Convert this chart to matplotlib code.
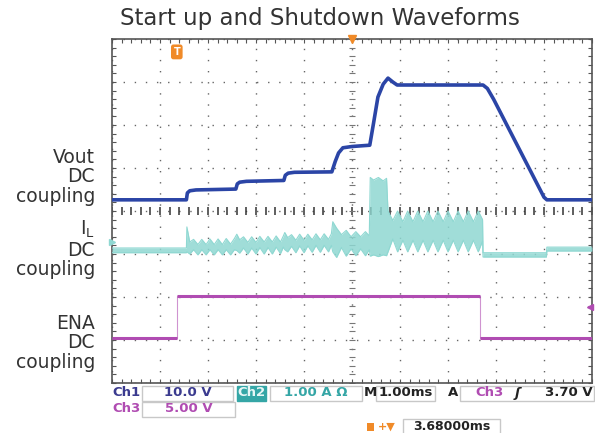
import matplotlib.pyplot as plt
import numpy as np

# time in ms (1 ms/div), amplitude in divisions (0 = bottom, 8 = top)
vout_t = [0.00, 1.55, 1.57, 1.62, 1.75, 2.58, 2.61, 2.66, 2.80, 3.58, 3.61, 3.67, 3.80,
          4.58, 4.65, 4.72, 4.81, 5.00, 5.37, 5.45, 5.54, 5.65, 5.75, 5.85, 5.94,
          7.73, 7.82, 7.95, 9.00, 9.06, 10.00]
vout_v = [4.26, 4.26, 4.42, 4.47, 4.49, 4.51, 4.63, 4.67, 4.69, 4.71, 4.83, 4.88, 4.90,
          4.91, 5.15, 5.35, 5.47, 5.50, 5.53, 6.05, 6.65, 6.95, 7.09, 7.00, 6.93,
          6.93, 6.85, 6.60, 4.32, 4.26, 4.26]

il_t = [0.00, 1.55,
        1.56, 1.62, 1.70, 1.79, 1.87, 1.96, 2.04, 2.13, 2.21, 2.30, 2.38, 2.47, 2.55,
        2.60, 2.66, 2.74, 2.83, 2.91, 3.00, 3.08, 3.17, 3.25, 3.34, 3.42, 3.51, 3.57,
        3.60, 3.66, 3.74, 3.83, 3.91, 4.00, 4.08, 4.17, 4.25, 4.34, 4.42, 4.51, 4.57,
        4.60, 4.68, 4.78, 4.88, 4.98, 5.08, 5.18, 5.28, 5.36,
        5.38, 5.45, 5.55, 5.65, 5.72,
        5.75, 5.85, 5.95, 6.06, 6.16, 6.27, 6.37, 6.48, 6.58, 6.69, 6.79, 6.90,
        7.00, 7.11, 7.21, 7.32, 7.42, 7.53, 7.63, 7.72,
        7.73, 9.05, 9.06, 10.00]
il_hi = [3.14, 3.14,
         3.63, 3.28, 3.34, 3.22, 3.34, 3.22, 3.35, 3.22, 3.35, 3.22, 3.36, 3.23, 3.36,
         3.46, 3.33, 3.40, 3.27, 3.40, 3.27, 3.41, 3.28, 3.41, 3.28, 3.42, 3.28, 3.42,
         3.50, 3.38, 3.45, 3.32, 3.46, 3.32, 3.46, 3.33, 3.47, 3.33, 3.47, 3.34, 3.47,
         3.75, 3.60, 3.45, 3.55, 3.40, 3.52, 3.40, 3.52, 3.42,
         4.78, 4.72, 4.78, 4.70, 4.76,
         4.00, 3.78, 4.00, 3.75, 4.00, 3.75, 4.00, 3.75, 4.00, 3.75, 4.00, 3.75,
         4.00, 3.75, 4.00, 3.75, 4.00, 3.75, 4.00, 3.80,
         3.03, 3.03, 3.16, 3.16]
il_lo = [3.03, 3.03,
         3.05, 3.00, 3.10, 2.98, 3.10, 2.98, 3.10, 2.98, 3.10, 2.98, 3.10, 2.98, 3.10,
         3.08, 3.02, 3.14, 3.00, 3.14, 3.00, 3.15, 3.00, 3.15, 3.00, 3.16, 3.01, 3.16,
         3.10, 3.05, 3.18, 3.03, 3.19, 3.03, 3.19, 3.04, 3.20, 3.04, 3.20, 3.05, 3.20,
         3.05, 2.92, 3.15, 2.95, 3.12, 2.96, 3.12, 2.96, 3.10,
         2.95, 2.98, 2.94, 2.98, 2.96,
         3.05, 3.35, 3.05, 3.32, 3.05, 3.32, 3.05, 3.32, 3.05, 3.32, 3.05, 3.32,
         3.05, 3.32, 3.05, 3.32, 3.05, 3.32, 3.05, 3.30,
         2.93, 2.93, 3.07, 3.07]

ena_t = [0.00, 1.35, 1.35, 7.67, 7.67, 10.00]
ena_v = [1.05, 1.05, 2.02, 2.02, 1.05, 1.05]

labels = ["Vout\nDC\ncoupling", "$\\mathregular{I_L}$\nDC\ncoupling", "ENA\nDC\ncoupling"]
label_y = [177, 249, 343]  # pixel rows of label centres

blue = "#2b45a6"
cyan = "#8fd8d2"
magenta = "#b04cb2"
navy = "#3b3b8f"
teal = "#35a6a6"

fig = plt.figure(figsize=(5.95, 4.33), dpi=100)
ax = fig.add_axes([112 / 595, 1 - 383 / 433, 480 / 595, 344 / 433])
ax.set_xlim(0, 10)
ax.set_ylim(0, 8)

# graticule
ax.set_xticks(range(11))
ax.set_yticks(range(9))
ax.set_xticks(np.arange(0, 10.01, 0.2), minor=True)
ax.set_yticks(np.arange(0, 8.01, 0.2), minor=True)
ax.set_xticklabels([])
ax.set_yticklabels([])
ax.tick_params(which="both", direction="in", top=True, right=True,
               length=3, width=0.8, color="#555")
ax.grid(True, which="major", color="#666", linestyle=(0, (1, 7)), linewidth=1.0)
for s in ax.spines.values():
    s.set_color("#555")
    s.set_linewidth(1.2)
ax.plot(np.arange(0, 10.01, 0.2), np.full(51, 4.0), ls="none", marker="|",
        ms=6, mew=1.1, color="#333", zorder=2)
ax.plot(np.full(41, 5.0), np.arange(0, 8.01, 0.2), ls="none", marker="_",
        ms=4, mew=0.8, color="#777", zorder=2)

# traces
ax.fill_between(il_t, il_lo, il_hi, color=cyan, lw=0, alpha=0.85, zorder=3)
ax.plot(il_t, il_hi, color=cyan, lw=0.8, zorder=3)
ax.plot(il_t, il_lo, color=cyan, lw=0.8, zorder=3)
ax.plot(ena_t, ena_v, color=magenta, lw=0.8, alpha=0.6, zorder=4)
for i in range(len(ena_t) - 1):
    if ena_v[i] == ena_v[i + 1]:
        ax.plot(ena_t[i:i + 2], ena_v[i:i + 2], color=magenta, lw=2.2,
                solid_capstyle="butt", zorder=4)
ax.plot(vout_t, vout_v, color=blue, lw=2.6, zorder=5)

# markers
ax.text(1.35, 7.7, "T", ha="center", va="center", color="white", fontsize=7,
        fontweight="bold", bbox=dict(boxstyle="round,pad=0.25", fc="#f08a28", ec="none"))
ax.plot([5.0], [8.0], marker="v", ms=6, color="#f08a28", clip_on=False, zorder=6)
ax.plot([9.95], [1.77], marker="<", ms=5, color=magenta, clip_on=False, zorder=6)
ax.plot([0.0], [3.28], marker=">", ms=4, color=cyan, clip_on=False, zorder=6)

fig.text(0.538, 0.958, "Start up and Shutdown Waveforms", ha="center", va="center",
         fontsize=16.5, color="#333", family="DejaVu Sans")
for lab, y in zip(labels, label_y):
    fig.text(95 / 595, 1 - y / 433, lab, ha="right", va="center", fontsize=13.5,
             color="#333", linespacing=1.05)

# readout rows
def box(x0, x1, y0, y1, fc="white", ec="#c8c8c8"):
    fig.patches.append(plt.Rectangle((x0 / 595, 1 - y1 / 433), (x1 - x0) / 595,
                                     (y1 - y0) / 433, transform=fig.transFigure,
                                     fc=fc, ec=ec, lw=1.0))

def txt(x, y, s, c, ha="left", size=9.5, **kw):
    fig.text(x / 595, 1 - y / 433, s, ha=ha, va="center", color=c, fontsize=size,
             fontweight="bold", **kw)

box(142, 233, 386, 401)
box(237, 266, 386, 401, fc=teal, ec=teal)
box(270, 362, 386, 401)
box(376, 435, 386, 401)
box(460, 594, 386, 401)
box(142, 235, 402, 417)
box(403, 500, 419, 436)
fig.patches.append(plt.Rectangle((367 / 595, 1 - 431 / 433), 7 / 595, 8 / 433,
                                 transform=fig.transFigure, fc="#f08a28", ec="none"))
txt(112, 393, "Ch1", navy)
txt(188, 393, "10.0 V", navy, ha="center")
txt(251, 393, "Ch2", "#e8f6f6", ha="center")
txt(316, 393, "1.00 A \u03a9", teal, ha="center")
txt(364, 393, "M", "#222")
txt(406, 393, "1.00ms", "#222", ha="center")
txt(448, 393, "A", "#222")
txt(475, 393, "Ch3", magenta)
txt(517, 393, "\u0283", "#222", ha="center", style="italic")
txt(593, 393, "3.70 V", "#222", ha="right")
txt(112, 409, "Ch3", magenta)
txt(189, 409, "5.00 V", magenta, ha="center")
txt(387, 427, "+\u25bc", "#f08a28", ha="center", size=8)
txt(452, 426, "3.68000ms", "#222", ha="center", size=9)

fig.savefig("out.png", dpi=100)
